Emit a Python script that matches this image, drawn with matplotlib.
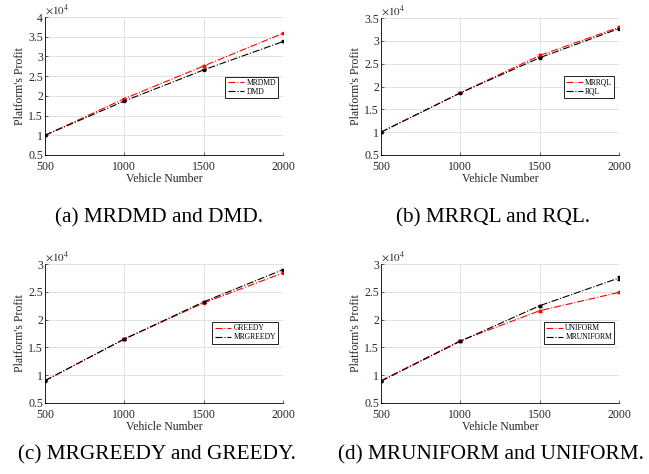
import matplotlib.pyplot as plt
import numpy as np

plt.rcParams['font.family'] = ['Liberation Serif', 'DejaVu Serif']
plt.rcParams['mathtext.fontset'] = 'stix'

vehicles = [500, 1000, 1500, 2000]

# (a)
mrdmd = [10000, 19300, 27600, 35900]
dmd = [10000, 18700, 26600, 33800]
mrdmd_err = [150, 150, 250, 150]
dmd_err = [100, 100, 100, 100]

# (b)
mrrql = [10000, 18600, 26800, 33000]
rql = [10000, 18600, 26300, 32700]
mrrql_err = [100, 100, 250, 150]
rql_err = [100, 100, 100, 100]

# (c)
greedy = [9000, 16500, 23000, 28400]
mrgreedy = [9000, 16500, 23200, 29000]
greedy_err = [100, 100, 100, 100]
mrgreedy_err = [100, 100, 150, 150]

# (d)
uniform = [9000, 16200, 21600, 24900]
mruniform = [8900, 16100, 22500, 27500]
uniform_err = [100, 100, 150, 150]
mruniform_err = [100, 150, 200, 350]

panels = [
    dict(pos=[0.0693, 0.673, 0.367, 0.291], ylim=(0.5, 4.0), legy=0.49,
         series=[("MRDMD", mrdmd, mrdmd_err, "red"), ("DMD", dmd, dmd_err, "black")],
         caption="(a) MRDMD and DMD.", cx=0.245, cy=0.54),
    dict(pos=[0.587, 0.673, 0.367, 0.289], ylim=(0.5, 3.5), legy=0.496,
         series=[("MRRQL", mrrql, mrrql_err, "red"), ("RQL", rql, rql_err, "black")],
         caption="(b) MRRQL and RQL.", cx=0.760, cy=0.54),
    dict(pos=[0.0693, 0.150, 0.367, 0.293], ylim=(0.5, 3.0), legy=0.504,
         series=[("GREEDY", greedy, greedy_err, "red"), ("MRGREEDY", mrgreedy, mrgreedy_err, "black")],
         caption="(c) MRGREEDY and GREEDY.", cx=0.242, cy=0.040),
    dict(pos=[0.587, 0.150, 0.367, 0.293], ylim=(0.5, 3.0), legy=0.504,
         series=[("UNIFORM", uniform, uniform_err, "red"), ("MRUNIFORM", mruniform, mruniform_err, "black")],
         caption="(d) MRUNIFORM and UNIFORM.", cx=0.757, cy=0.040),
]

fig = plt.figure(figsize=(6.49, 4.74), dpi=100)
txt = '#262626'

for p in panels:
    ax = fig.add_axes(p["pos"])
    handles = []
    for name, vals, err, col in p["series"]:
        ax.errorbar(vehicles, np.array(vals) / 1e4, yerr=np.array(err) / 1e4,
                    color=col, linestyle='-.', linewidth=0.8, marker='s',
                    markersize=1.8, capsize=1.3, elinewidth=0.6)
        h, = ax.plot([], [], color=col, linestyle='-.', linewidth=0.8, label=name)
        handles.append(h)
    ax.set_xlim(500, 2000)
    ax.set_ylim(*p["ylim"])
    ax.set_xticks(vehicles)
    yt = np.arange(p["ylim"][0], p["ylim"][1] + 0.01, 0.5)
    ax.set_yticks(yt)
    ax.set_yticklabels([f"{v:g}" for v in yt])
    ax.grid(True, color='#dcdcdc', linewidth=0.6)
    ax.set_axisbelow(True)
    for s in ['top', 'right']:
        ax.spines[s].set_visible(False)
    for s in ['left', 'bottom']:
        ax.spines[s].set_linewidth(0.6)
    ax.tick_params(direction='in', length=2, width=0.5, labelsize=8.5, colors=txt)
    ax.tick_params(axis='x', pad=4.5)
    ax.tick_params(axis='y', pad=1.5)
    ax.set_xlabel("Vehicle Number", fontsize=8.5, color=txt, labelpad=0)
    ax.set_ylabel("Platform's Profit", fontsize=8.5, color=txt, labelpad=1.5)
    ax.text(0.0, 1.0, r"$\times10^4$", transform=ax.transAxes, fontsize=8,
            color=txt, va='bottom', ha='left')
    leg = ax.legend(handles=handles, loc='center right', bbox_to_anchor=(0.98, p["legy"]),
                    fontsize=5.5, frameon=True, fancybox=False, framealpha=1,
                    edgecolor='black', borderpad=0.3, handlelength=2.2,
                    handletextpad=0.3, labelspacing=0.15, borderaxespad=0)
    leg.get_frame().set_linewidth(0.6)
    fig.text(p["cx"], p["cy"], p["caption"], fontsize=15.3, ha='center', va='center')

fig.savefig("out.png", dpi=100)
